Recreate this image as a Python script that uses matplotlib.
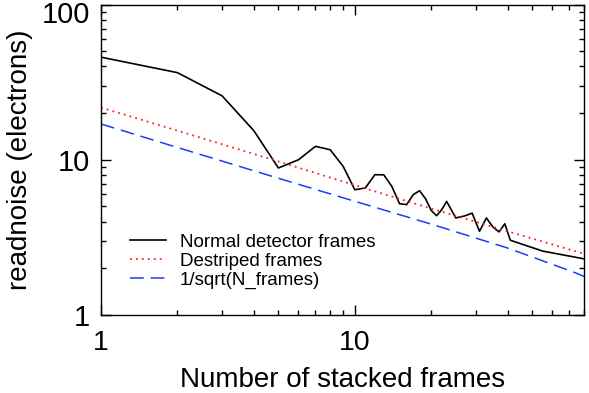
import matplotlib
matplotlib.use('Agg')
import matplotlib.pyplot as plt
import matplotlib.ticker as ticker
import matplotlib.transforms as mtransforms

plt.rcParams['font.family'] = ['Liberation Sans', 'DejaVu Sans']

# readnoise vs number of stacked frames
n_normal = [1, 2, 3, 4, 5, 6, 7, 8, 9, 10, 11, 12, 13, 14, 15, 16, 17, 18, 19, 20,
            21, 22, 23, 24, 25, 27, 29, 31, 33, 35, 37, 39, 41, 55, 80]
rn_normal = [45.8, 36.4, 25.8, 15.4, 8.85, 10.0, 12.2, 11.6, 9.06, 6.41, 6.58, 8.01,
             8.0, 6.73, 5.21, 5.14, 5.96, 6.32, 5.61, 4.72, 4.36, 4.76, 5.39, 4.76,
             4.22, 4.34, 4.53, 3.46, 4.22, 3.69, 3.43, 3.87, 3.03, 2.58, 2.30]

n_destriped = [1, 2, 5, 10, 20, 40, 80]
rn_destriped = [21.7, 15.4, 9.75, 6.86, 4.85, 3.46, 2.48]

n_sqrt = [1, 2, 5, 10, 20, 40, 74, 80]
rn_sqrt = [17.0, 12.0, 7.6, 5.4, 3.85, 2.7, 1.87, 1.77]

fig = plt.figure(figsize=(5.89, 3.93), dpi=100)
ax = fig.add_axes([0.1715, 0.1985, 0.82, 0.79])

ax.plot(n_normal, rn_normal, '-', color='k', linewidth=1.2,
        label='Normal detector frames')
ax.plot(n_destriped, rn_destriped, linestyle=(0, (1, 2.3)), color='#ff2020',
        linewidth=1.3, label='Destriped frames')
ax.plot(n_sqrt, rn_sqrt, linestyle=(0, (9, 4.5)), color='#1a3cff',
        linewidth=1.1, label='1/sqrt(N_frames)')

ax.set_xscale('log')
ax.set_yscale('log')
ax.set_xlim(1, 80)
ax.set_ylim(1, 100)

ax.xaxis.set_major_locator(ticker.FixedLocator([1, 10]))
ax.xaxis.set_major_formatter(ticker.FixedFormatter(['1', '10']))
ax.xaxis.set_minor_locator(ticker.LogLocator(base=10, subs=range(2, 10), numticks=20))
ax.xaxis.set_minor_formatter(ticker.NullFormatter())
ax.yaxis.set_major_locator(ticker.FixedLocator([1, 10, 100]))
ax.yaxis.set_major_formatter(ticker.FixedFormatter(['1', '10', '100']))
ax.yaxis.set_minor_locator(ticker.LogLocator(base=10, subs=range(2, 10), numticks=20))
ax.yaxis.set_minor_formatter(ticker.NullFormatter())

ax.tick_params(which='both', direction='in', top=True, right=True, width=1.0)
ax.tick_params(which='major', length=7)
ax.tick_params(axis='x', which='major', labelsize=20.5, pad=11)
ax.tick_params(axis='y', which='major', labelsize=21, pad=8)
ax.tick_params(which='minor', length=3.5)
for s in ax.spines.values():
    s.set_linewidth(1.0)

# the "100" label sits a little below its tick, as in the original
fig.canvas.draw()
for lab in ax.yaxis.get_majorticklabels():
    if lab.get_text() == '100':
        lab.set_transform(lab.get_transform() +
                          mtransforms.ScaledTranslation(0, -7 / 100, fig.dpi_scale_trans))

ax.set_xlabel('Number of stacked frames', fontsize=20, labelpad=8)
ax.set_ylabel('readnoise (electrons)', fontsize=20, labelpad=6)

ax.legend(loc='upper left', bbox_to_anchor=(0.06, 0.262), frameon=False,
          fontsize=13.5, handlelength=1.9, handletextpad=0.75,
          labelspacing=0.1, borderpad=0, borderaxespad=0)

plt.savefig('out.png', dpi=100)
